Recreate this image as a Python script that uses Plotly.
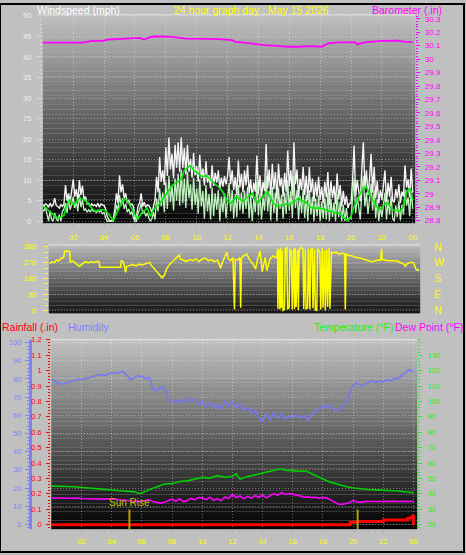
import numpy as np
import plotly.graph_objects as go

W, H = 466, 555
FONT = "Liberation Sans, Arial, sans-serif"

# ---------------- text ----------------
TITLE_WIND = "Windspeed (mph)"
TITLE_CENTER = "24 hour graph day : May 15 2026"
TITLE_BARO = "Barometer (.in)"
TITLE_RAIN = "Rainfall (.in)"
TITLE_HUM = "Humidity"
TITLE_TEMP = "Temperature (°F)"
TITLE_DEW = "Dew Point (°F)"
SUNRISE_LABEL = "Sun Rise"

# ---------------- ticks ----------------
hour_ticks = [2, 4, 6, 8, 10, 12, 14, 16, 18, 20, 22, 24]
hour_labels = ["02", "04", "06", "08", "10", "12", "14", "16", "18", "20", "22", "00"]
wind_ticks = [0, 5, 10, 15, 20, 25, 30, 35, 40, 45, 50]
baro_ticks = [28.8, 28.9, 29.0, 29.1, 29.2, 29.3, 29.4, 29.5, 29.6, 29.7, 29.8, 29.9, 30.0, 30.1, 30.2, 30.3]
baro_labels = ["28.8", "28.9", "29", "29.1", "29.2", "29.3", "29.4", "29.5", "29.6", "29.7",
               "29.8", "29.9", "30", "30.1", "30.2", "30.3"]
dir_ticks = [0, 90, 180, 270, 360]
compass_labels = ["N", "E", "S", "W", "N"]
rain_ticks = [0, 0.1, 0.2, 0.3, 0.4, 0.5, 0.6, 0.7, 0.8, 0.9, 1.0, 1.1, 1.2]
rain_labels = ["0", "0.1", "0.2", "0.3", "0.4", "0.5", "0.6", "0.7", "0.8", "0.9", "1", "1.1", "1.2"]
hum_ticks = [0, 10, 20, 30, 40, 50, 60, 70, 80, 90, 100]
temp_ticks = [20, 30, 40, 50, 60, 70, 80, 90, 100, 110, 120, 130]

sunrise_hour = 5.17
sunset_hour = 20.3

# ---------------- wind (mph), one value every 6 minutes ----------------
gust_rows = [
    [4.2, 3.6, 4.2, 4.0, 3.4, 4.4, 3.6, 4.0, 5.6, 3.8],
    [3.6, 3.2, 4.0, 3.6, 4.2, 8.8, 5.0, 6.8, 4.6, 7.0],
    [10.2, 6.0, 7.8, 4.8, 10.0, 6.4, 8.6, 5.2, 6.0, 4.2],
    [4.4, 3.6, 4.2, 3.8, 4.0, 3.6, 4.4, 3.4, 4.2, 4.0],
    [3.8, 3.0, 1.2, 0.4, 0.0, 0.2, 0.6, 3.0, 6.8, 4.4],
    [11.2, 7.0, 9.0, 5.6, 6.8, 4.4, 5.2, 3.8, 4.2, 3.6],
    [0.4, 1.0, 3.8, 4.4, 6.8, 3.6, 4.6, 3.4, 4.0, 3.8],
    [3.2, 2.0, 4.0, 5.2, 10.8, 7.0, 15.6, 9.6, 12.4, 8.8],
    [18.0, 11.0, 20.4, 12.6, 16.4, 10.4, 18.6, 13.0, 19.2, 12.0],
    [20.4, 13.0, 17.8, 11.4, 18.6, 12.0, 15.2, 10.6, 16.6, 11.2],
    [13.4, 9.6, 16.2, 10.4, 12.8, 8.8, 14.6, 9.4, 11.2, 8.0],
    [13.6, 8.6, 11.8, 9.4, 12.4, 7.8, 10.6, 8.4, 11.0, 9.0],
    [11.0, 15.6, 9.0, 12.4, 7.6, 10.8, 6.4, 14.8, 8.2, 11.6],
    [7.0, 12.4, 8.8, 13.6, 6.8, 10.2, 5.6, 9.4, 7.2, 16.0],
    [6.6, 11.2, 5.8, 9.6, 7.4, 18.8, 8.0, 12.6, 6.2, 14.0],
    [7.8, 12.0, 5.4, 14.0, 8.4, 10.6, 6.0, 11.8, 7.2, 17.2],
    [8.6, 12.4, 6.2, 19.2, 9.0, 12.6, 5.8, 10.4, 7.6, 13.2],
    [6.4, 11.0, 5.2, 13.2, 7.0, 10.4, 4.8, 9.6, 6.0, 10.8],
    [5.2, 8.4, 4.4, 9.6, 5.8, 12.0, 4.0, 9.8, 5.6, 8.6],
    [4.2, 11.6, 5.4, 8.8, 3.6, 7.4, 4.0, 6.2, 3.2, 4.4],
    [4.4, 9.8, 18.4, 6.0, 10.0, 7.6, 4.8, 12.6, 19.2, 8.0],
    [12.4, 6.4, 10.2, 16.4, 7.0, 13.2, 5.6, 9.8, 4.4, 7.6],
    [5.2, 8.8, 12.4, 4.6, 9.4, 6.0, 10.8, 5.0, 4.6, 7.8],
    [5.6, 9.0, 4.4, 7.2, 6.0, 13.6, 8.2, 10.2, 5.8, 12.8],
    [7.0],
]
speed_rows = [
    [3.0, 2.4, 3.4, 1.2, 0.0, 2.6, 0.4, 0.0, 2.0, 0.6],
    [0.0, 1.6, 0.0, 2.4, 3.0, 4.4, 2.0, 5.6, 2.8, 4.2],
    [6.0, 3.2, 4.8, 2.4, 6.6, 3.4, 5.2, 2.6, 3.0, 2.2],
    [2.8, 2.2, 3.0, 2.4, 2.6, 2.0, 2.8, 2.2, 2.6, 1.8],
    [2.2, 0.8, 0.0, 0.0, 0.0, 0.0, 0.0, 1.4, 4.0, 2.6],
    [6.4, 3.8, 5.6, 3.0, 4.2, 2.2, 3.0, 1.6, 2.4, 0.8],
    [0.0, 0.0, 2.0, 2.8, 4.4, 1.8, 2.6, 1.2, 2.0, 0.8],
    [0.0, 0.6, 2.2, 0.4, 5.6, 2.4, 8.0, 3.6, 7.0, 2.2],
    [9.6, 3.0, 11.0, 4.6, 8.8, 2.6, 10.4, 5.0, 11.6, 3.8],
    [12.6, 4.4, 10.4, 3.2, 12.0, 5.6, 9.0, 2.8, 10.6, 4.0],
    [8.0, 1.8, 10.2, 3.6, 7.4, 0.6, 8.8, 2.4, 6.6, 0.4],
    [8.2, 1.2, 6.8, 2.8, 7.6, 0.0, 6.0, 2.2, 6.8, 0.8],
    [6.4, 9.4, 2.4, 7.6, 0.6, 6.6, 1.0, 8.8, 2.6, 7.0],
    [1.8, 7.4, 3.0, 8.4, 0.8, 6.2, 0.0, 5.6, 2.2, 9.6],
    [1.4, 6.8, 0.4, 5.8, 2.6, 11.0, 2.4, 7.4, 0.2, 8.4],
    [2.0, 7.0, 0.0, 8.2, 3.0, 6.4, 0.6, 7.0, 1.8, 10.0],
    [2.6, 7.4, 0.8, 11.0, 3.2, 7.6, 0.4, 6.2, 2.0, 7.8],
    [0.8, 6.4, 0.0, 7.6, 1.6, 6.0, 0.0, 5.6, 1.2, 6.2],
    [0.0, 4.8, 0.6, 5.6, 0.4, 7.0, 0.0, 5.4, 1.0, 4.6],
    [0.0, 6.6, 1.0, 4.8, 0.0, 4.0, 0.0, 3.2, 0.0, 0.8],
    [0.6, 5.6, 10.4, 2.0, 5.8, 3.4, 0.4, 7.2, 11.0, 3.6],
    [7.0, 1.8, 6.0, 9.2, 2.6, 7.6, 0.8, 5.4, 0.0, 3.6],
    [1.0, 4.8, 7.0, 0.4, 5.2, 1.6, 6.2, 0.6, 0.0, 3.8],
    [1.0, 5.0, 0.2, 4.0, 1.6, 7.8, 3.8, 5.8, 1.2, 7.4],
    [3.0],
]
# 10-minute average, one value every 12 minutes
avg_rows = [
    [3.6, 3.4, 2.6, 2.0, 1.4], [0.8, 1.0, 1.4, 4.2, 5.2], [4.0, 4.6, 5.6, 5.4, 5.0],
    [4.0, 3.2, 2.4, 2.6, 2.8], [2.8, 2.2, 1.2, 0.2, 1.8], [3.6, 5.0, 5.4, 4.4, 3.0],
    [1.6, 0.6, 1.8, 2.6, 3.2], [1.2, 2.8, 3.6, 4.2, 5.4], [6.4, 7.6, 8.6, 9.2, 9.6],
    [10.2, 12.4, 13.0, 13.6, 12.4], [12.0, 11.2, 10.8, 11.2, 10.4], [9.6, 9.0, 8.4, 7.6, 6.4],
    [4.8, 4.4, 5.2, 6.0, 5.4], [4.8, 5.6, 6.2, 6.8, 5.2], [4.4, 5.8, 6.6, 7.2, 5.6],
    [4.2, 3.6, 3.8, 4.0, 4.2], [4.0, 4.4, 5.0, 5.6, 5.0], [4.8, 4.0, 3.4, 3.2, 3.2],
    [3.2, 3.0, 2.8, 2.4, 2.4], [2.0, 2.0, 1.4, 0.6, 0.2], [1.2, 3.6, 5.0, 6.8, 8.0],
    [8.4, 6.4, 5.2, 4.0, 2.8], [3.4, 4.2, 4.4, 3.2, 2.6], [2.6, 2.4, 3.6, 7.2, 8.0],
    [5.2],
]

# ---------------- barometer (in) ----------------
baro_hours = [0, 1.3, 2.6, 3.25, 3.9, 4.3, 5.2, 5.8, 6.3, 6.6, 6.9, 7.3, 8.4, 9.3, 10.6, 11.5,
              12.3, 12.5, 13.1, 13.8, 14.4, 15.2, 15.9, 16.6, 17.4, 18.1, 18.5, 19.2, 20.3,
              20.4, 20.6, 20.9, 22.0, 23.0, 23.5, 24]
baro_values = [30.122, 30.12, 30.122, 30.136, 30.136, 30.146, 30.15, 30.158, 30.158, 30.146,
               30.16, 30.17, 30.165, 30.153, 30.153, 30.148, 30.141, 30.129, 30.122, 30.112,
               30.104, 30.099, 30.092, 30.092, 30.097, 30.092, 30.117, 30.124, 30.124, 30.109,
               30.115, 30.124, 30.136, 30.138, 30.129, 30.127]

# ---------------- wind direction (deg) ----------------
dir_hours_a = [0.0, 0.15, 0.3, 0.45, 0.6, 0.75, 0.9, 0.97, 1.1, 1.29, 1.33, 1.5, 1.7, 1.94, 2.1,
               2.3, 2.5, 2.7, 2.9, 3.1, 3.2, 3.25, 4.6, 4.64, 4.75, 4.85, 4.92, 5.0, 5.2, 5.4,
               5.6, 5.8, 6.0, 6.2, 6.47, 6.6, 6.8, 6.95, 7.1, 7.3, 7.45, 7.6, 7.8, 8.0, 8.2,
               8.4, 8.5, 8.7, 8.9, 9.1, 9.3, 9.5, 9.7, 9.9, 10.1, 10.3, 10.5, 10.7, 10.9, 11.1,
               11.2, 11.35, 11.5, 11.6, 11.75]
dir_deg_a = [265, 275, 272, 285, 281, 296, 300, 334, 336, 335, 275, 280, 265, 250, 262,
             276, 270, 276, 272, 278, 276, 244, 244, 281, 278, 255, 216, 248, 255, 260,
             252, 262, 258, 264, 272, 255, 235, 222, 207, 185, 200, 238, 262, 281, 300,
             313, 290, 285, 278, 288, 282, 292, 277, 290, 296, 282, 287, 276, 285, 239,
             270, 300, 330, 292, 282]
dir_hours_b = [11.9, 11.95, 12.0, 12.05, 12.2, 12.35, 12.4, 12.45, 12.6, 12.8, 13.0, 13.2,
               13.37, 13.5, 13.67, 13.8, 13.9, 14.0, 14.1, 14.3, 14.5, 14.66]
dir_deg_b = [300, 20, 5, 290, 285, 300, 15, 295, 310, 319, 285, 263, 235, 290, 337, 220, 260,
             300, 225, 290, 309, 300]
dir_hours_c = [14.75, 14.8, 14.82, 14.9, 14.95, 15.0, 15.05, 15.1, 15.15, 15.25, 15.3, 15.4,
               15.45, 15.55, 15.6, 15.7, 15.75, 15.85, 15.9, 15.95, 16.0, 16.1, 16.15, 16.2,
               16.3, 16.45, 16.5, 16.6, 16.65, 16.75, 16.8, 16.9, 16.95, 17.05, 17.1, 17.2,
               17.25, 17.35, 17.4, 17.55, 17.6, 17.7, 17.75, 17.85, 17.9, 18.0, 18.05, 18.15,
               18.2, 18.3, 18.35]
dir_deg_c = [300, 350, 10, 345, 5, 355, 15, 340, 0, 5, 350, 355, 10, 15, 345, 340, 5, 350, 8,
             355, 20, 345, 3, 340, 355, 350, 8, 345, 10, 15, 350, 5, 340, 355, 12, 345, 2, 0,
             350, 330, 5, 355, 15, 340, 0, 345, 20, 355, 10, 335, 325]
dir_hours_d = [18.4, 18.6, 18.8, 19.0, 19.15, 19.2, 19.25, 19.4, 19.6, 19.8, 20.0, 20.2, 20.4,
               20.6, 20.8, 20.9, 21.1, 21.3, 21.5, 21.55, 21.6, 21.8, 22.0, 22.3, 22.6, 22.8,
               23.0, 23.1, 23.2, 23.4, 23.6, 23.7, 23.8, 23.9, 24.0]
dir_deg_d = [325, 330, 318, 325, 322, 5, 320, 312, 310, 302, 300, 295, 290, 284, 281, 276, 280,
             286, 285, 347, 288, 283, 281, 282, 280, 270, 262, 250, 262, 272, 272, 255, 232,
             228, 232]

# ---------------- humidity (%), dew point (F): every 15 minutes ----------------
hum_rows = [
    [80, 78.5, 77.5, 77.2], [77.8, 78.6, 79.2, 79.8], [79.6, 80.2, 80.8, 81.2],
    [81.8, 82.4, 82.0, 82.8], [83.4, 83.0, 83.8, 84.2], [82.0, 79.5, 80.6, 81.8],
    [81.2, 80.2, 80.8, 74.2], [73.6, 75.6, 74.8, 68.6], [67.4, 67.0, 68.4, 67.2],
    [69.8, 67.0, 69.4, 66.0], [67.6, 64.8, 66.8, 64.0], [66.0, 63.6, 67.6, 65.0],
    [67.4, 64.2, 66.0, 62.6], [64.6, 61.0, 63.0, 58.8], [56.4, 60.8, 57.6, 61.2],
    [58.6, 60.8, 58.0, 59.6], [59.0, 60.4, 58.4, 59.8], [57.2, 60.4, 62.4, 63.4],
    [65.2, 64.6, 65.8, 62.6], [62.8, 64.0, 66.8, 71.6], [76.4, 77.8, 76.2, 77.0],
    [78.2, 79.0, 78.0, 78.8], [78.4, 79.6, 79.0, 80.4], [80.2, 82.4, 83.6, 85.2],
    [84.0],
]
dew_rows = [
    [37.3, 37.4, 37.2, 37.3], [37.1, 37.2, 37.0, 37.2], [37.0, 36.9, 37.1, 36.8],
    [36.7, 36.8, 36.6, 36.8], [36.9, 36.6, 36.2, 35.9], [35.8, 35.6, 35.4, 35.0],
    [35.2, 35.8, 36.2, 34.8], [34.6, 34.0, 34.6, 35.6], [36.6, 35.2, 36.8, 34.8],
    [35.6, 37.0, 36.2, 37.6], [37.4, 36.2, 37.8, 35.8], [36.8, 35.6, 38.0, 37.0],
    [39.6, 37.6, 38.6, 36.8], [38.4, 37.2, 39.0, 37.6], [39.4, 37.4, 38.8, 40.2],
    [39.0, 40.8, 39.6, 40.2], [39.8, 39.4, 38.6, 37.8], [38.0, 37.6, 37.8, 37.2],
    [37.6, 37.4, 36.2, 34.6], [33.4, 33.2, 33.6, 34.2], [35.8, 34.8, 34.6, 35.0],
    [35.2, 35.0, 35.1, 35.0], [35.2, 35.0, 35.1, 35.2], [35.0, 35.2, 35.1, 35.0],
    [35.1],
]

# ---------------- temperature (F) ----------------
temp_hours = [0, 0.5, 1, 1.5, 2, 2.5, 3, 3.5, 4, 4.5, 5, 5.5, 5.85, 6.0, 6.5, 7, 7.5, 8, 8.5, 9,
              9.5, 10, 10.5, 11, 11.5, 12, 12.25, 12.5, 13, 13.5, 14, 14.5, 15, 15.2, 15.5, 16,
              16.5, 16.85, 17.5, 18, 18.5, 19, 19.5, 20, 20.5, 21, 21.5, 22, 22.5, 23, 23.5, 24]
temp_values = [45.0, 45.1, 44.8, 44.6, 44.3, 43.8, 43.2, 42.9, 42.5, 42.2, 41.8, 41.3, 40.2,
               40.6, 42.8, 44.6, 46.4, 46.6, 48.0, 48.4, 49.8, 50.7, 50.2, 51.8, 50.8, 51.4,
               53.0, 49.6, 51.2, 52.4, 53.2, 54.4, 55.8, 56.3, 55.4, 55.2, 54.6, 55.0, 51.8,
               49.6, 47.6, 46.0, 44.8, 43.8, 43.2, 42.8, 42.6, 42.4, 42.4, 41.8, 41.2, 40.8]

# ---------------- rainfall (in) ----------------
rain_hours = [0, 19.8, 19.8, 20.25, 20.25, 22.0, 22.0, 23.6, 23.6, 23.8, 23.95, 24.0, 24.0]
rain_values = [0, 0, 0.015, 0.015, 0.02, 0.02, 0.03, 0.03, 0.04, 0.045, 0.055, 0.055, 0.0]


def flat(rows):
    return [v for r in rows for v in r]


gust = flat(gust_rows)
speed = flat(speed_rows)
avg = flat(avg_rows)
hum = flat(hum_rows)
dew = flat(dew_rows)
t6 = np.arange(len(gust)) * 0.1
t12 = np.arange(len(avg)) * 0.2
t15 = np.arange(len(hum)) * 0.25
dir_hours = dir_hours_a + dir_hours_b + dir_hours_c + dir_hours_d
dir_deg = dir_deg_a + dir_deg_b + dir_deg_c + dir_deg_d


def px(x):
    return x / W


def py(y):
    return 1 - y / H


# panel boxes (pixels)
TOP = dict(x0=43, x1=417, y0=11, y1=222)
MID = dict(x0=49, x1=422, y0=244, y1=313)
BOT = dict(x0=51.5, x1=419, y0=340, y1=531.7)

YELLOW = "#ffff00"
MAGENTA = "#ff00ff"
HUMC = "#8080ff"
TEMPC = "#22ee22"
GRID = "rgba(255,255,255,0.38)"

fig = go.Figure()

# top panel traces
fig.add_trace(go.Scatter(x=t6, y=gust, xaxis="x", yaxis="y", mode="lines",
                         line=dict(color="#f4f4f4", width=1.4), hoverinfo="skip"))
fig.add_trace(go.Scatter(x=t6, y=speed, xaxis="x", yaxis="y", mode="lines",
                         line=dict(color="#bdf2bd", width=1.3), hoverinfo="skip"))
fig.add_trace(go.Scatter(x=t12, y=avg, xaxis="x", yaxis="y", mode="lines",
                         line=dict(color="#00ee00", width=1.6), hoverinfo="skip"))
fig.add_trace(go.Scatter(x=baro_hours, y=baro_values, xaxis="x", yaxis="y2", mode="lines",
                         line=dict(color=MAGENTA, width=1.8), hoverinfo="skip"))
# middle panel
fig.add_trace(go.Scatter(x=dir_hours, y=dir_deg, xaxis="x2", yaxis="y3", mode="lines",
                         line=dict(color=YELLOW, width=1.5), hoverinfo="skip"))
fig.add_trace(go.Scatter(x=dir_hours, y=dir_deg, xaxis="x2", yaxis="y4", mode="lines",
                         line=dict(color=YELLOW, width=0), opacity=0, hoverinfo="skip"))
# bottom panel
fig.add_trace(go.Scatter(x=rain_hours, y=rain_values, xaxis="x3", yaxis="y5", mode="lines",
                         line=dict(color="#ff0000", width=3), hoverinfo="skip"))
fig.add_trace(go.Scatter(x=t15, y=hum, xaxis="x3", yaxis="y6", mode="lines",
                         line=dict(color="#7878f4", width=1.6), hoverinfo="skip"))
fig.add_trace(go.Scatter(x=temp_hours, y=temp_values, xaxis="x3", yaxis="y7", mode="lines",
                         line=dict(color="#00cc00", width=1.6), hoverinfo="skip"))
fig.add_trace(go.Scatter(x=t15, y=dew, xaxis="x3", yaxis="y7", mode="lines",
                         line=dict(color=MAGENTA, width=1.6), hoverinfo="skip"))

# ---------------- background shapes ----------------
shapes = []


def gradient(box, top_v, bot_v, n):
    for i in range(n):
        ya = box["y0"] + (box["y1"] - box["y0"]) * i / n
        yb = box["y0"] + (box["y1"] - box["y0"]) * (i + 1) / n
        v = int(round(top_v + (bot_v - top_v) * (i + 0.5) / n))
        shapes.append(dict(type="rect", xref="paper", yref="paper", x0=px(box["x0"]),
                           x1=px(box["x1"]), y0=py(yb), y1=py(ya),
                           fillcolor=f"rgb({v},{v},{v})", line=dict(width=0), layer="below"))


gradient(TOP, 192, 4, 44)
gradient(MID, 185, 18, 18)
gradient(BOT, 194, 0, 44)

for box in (TOP, MID, BOT):
    shapes.append(dict(type="line", xref="paper", yref="paper", x0=px(box["x0"]), x1=px(box["x1"]),
                       y0=py(box["y0"]), y1=py(box["y0"]), line=dict(color="#e8e8e8", width=1)))

# sunrise / sunset markers
for hr in (sunrise_hour, sunset_hour):
    shapes.append(dict(type="line", xref="x3", yref="y5", x0=hr, x1=hr, y0=-0.028, y1=0.098,
                       line=dict(color="#b0a000", width=2)))

# outer border
shapes.append(dict(type="rect", xref="paper", yref="paper", x0=0, x1=1, y0=0, y1=1,
                   line=dict(color="#000000", width=2)))

# ---------------- annotations ----------------
ann = []


def label(text, x, y, color, size=10.5, anchor="left"):
    ann.append(dict(text=text, x=px(x), y=py(y), xref="paper", yref="paper", showarrow=False,
                    xanchor=anchor, yanchor="middle", font=dict(family=FONT, size=size, color=color)))


label(TITLE_WIND, 35, 6, "#ffffff")
label(TITLE_CENTER, 172.5, 6, YELLOW)
label(TITLE_BARO, 371.5, 6, MAGENTA)
label(TITLE_RAIN, 0, 327.5, "#ff0000")
label(TITLE_HUM, 66.5, 327.5, HUMC)
label(TITLE_TEMP, 313, 327.5, TEMPC)
label(TITLE_DEW, 395, 327.5, MAGENTA)
ann.append(dict(text=SUNRISE_LABEL, x=sunrise_hour, y=0.098, xref="x3", yref="y5", showarrow=False,
                xanchor="center", yanchor="bottom", font=dict(family=FONT, size=10, color="#c8c000")))

TICKF = 7.5


def tf(color, size=TICKF):
    return dict(family=FONT, size=size, color=color)


common_x = dict(showgrid=True, gridcolor=GRID, griddash="1px,2px", zeroline=False,
                tickvals=hour_ticks, ticktext=hour_labels, tickfont=tf(YELLOW),
                ticks="outside", ticklen=3, tickcolor="#b0b0b0",
                minor=dict(dtick=0.5, ticklen=2, tickcolor="#b0b0b0", ticks="outside", showgrid=False),
                showline=True, linecolor="#a0a0a0", linewidth=1, fixedrange=True)

fig.update_layout(
    width=W, height=H, autosize=False,
    margin=dict(l=0, r=0, t=0, b=0, pad=0),
    paper_bgcolor="#c0c0c0", plot_bgcolor="rgba(0,0,0,0)",
    showlegend=False, font=dict(family=FONT),
    shapes=shapes, annotations=ann,
    xaxis=dict(domain=[px(TOP["x0"]), px(TOP["x1"])], anchor="y", range=[0.03, 24.16],
               ticklabelstandoff=4, **common_x),
    yaxis=dict(domain=[py(TOP["y1"]), py(TOP["y0"])], anchor="x", range=[-0.48, 50.24],
               tickvals=wind_ticks, tickfont=tf("#f0f0f0"), showgrid=True, gridcolor=GRID,
               griddash="1px,2px", zeroline=False, ticks="outside", ticklen=5, tickcolor="#d8d8d8",
               minor=dict(dtick=1, ticklen=2, tickcolor="#d8d8d8", ticks="outside", showgrid=False),
               showline=True, linecolor="#b8b8b8", ticklabelstandoff=4),
    yaxis2=dict(overlaying="y", side="right", anchor="x", range=[28.781, 30.329],
                tickvals=baro_ticks, ticktext=baro_labels, tickfont=tf(MAGENTA, 8),
                showgrid=False, zeroline=False, ticks="outside", ticklen=4, tickcolor=MAGENTA,
                minor=dict(dtick=0.02, ticklen=2, tickcolor=MAGENTA, ticks="outside", showgrid=False),
                showline=False, ticklabelstandoff=3),
    xaxis2=dict(domain=[px(MID["x0"]), px(MID["x1"])], anchor="y3", range=[-0.065, 24.065],
                showgrid=False, showticklabels=False, ticks="", zeroline=False,
                showline=True, linecolor="#808080"),
    yaxis3=dict(domain=[py(MID["y1"]), py(MID["y0"])], anchor="x2", range=[-15, 371],
                tickvals=dir_ticks, tickfont=tf(YELLOW), showgrid=True, gridcolor=GRID,
                griddash="1px,2px", zeroline=False, ticks="outside", ticklen=5, tickcolor=YELLOW,
                minor=dict(dtick=30, ticklen=3, tickcolor=YELLOW, ticks="outside", showgrid=False),
                showline=False, ticklabelstandoff=5),
    yaxis4=dict(overlaying="y3", side="right", anchor="x2", range=[-15, 371],
                tickvals=dir_ticks, ticktext=compass_labels, tickfont=tf(YELLOW, 10.5),
                showgrid=False, zeroline=False, ticks="", showline=False, ticklabelstandoff=13),
    xaxis3=dict(domain=[px(BOT["x0"]), px(BOT["x1"])], anchor="y5", range=[-0.01, 24.25],
                ticklabelstandoff=2, **common_x),
    yaxis5=dict(domain=[py(BOT["y1"]), py(BOT["y0"])], anchor="x3", range=[-0.028, 1.2006],
                tickvals=rain_ticks, ticktext=rain_labels, tickfont=tf("#ff0000"),
                showgrid=False, zeroline=False, ticks="outside", ticklen=4, tickcolor="#ff0000",
                minor=dict(dtick=0.02, ticklen=2, tickcolor="#ff0000", ticks="outside", showgrid=False),
                showline=False, ticklabelstandoff=3),
    yaxis6=dict(overlaying="y5", anchor="free", position=px(30), side="left", range=[-2.55, 101.6],
                tickvals=hum_ticks, tickfont=tf(HUMC), showgrid=True, gridcolor=GRID,
                griddash="1px,2px", zeroline=False, ticks="outside", ticklen=4, tickcolor=HUMC,
                minor=dict(dtick=2, ticklen=2, tickcolor=HUMC, ticks="outside", showgrid=False),
                showline=True, linecolor=HUMC, linewidth=3, ticklabelstandoff=2),
    yaxis7=dict(overlaying="y5", side="right", anchor="x3", range=[17.18, 140.06],
                tickvals=temp_ticks, tickfont=tf(TEMPC), showgrid=False, zeroline=False,
                ticks="outside", ticklen=4, tickcolor=TEMPC,
                minor=dict(dtick=2, ticklen=2, tickcolor=TEMPC, ticks="outside", showgrid=False),
                showline=False, ticklabelstandoff=4),
)

fig.write_html("out.html", config=dict(displayModeBar=False, staticPlot=True),
               post_script="document.body.style.margin='0px';document.body.style.overflow='hidden';")
